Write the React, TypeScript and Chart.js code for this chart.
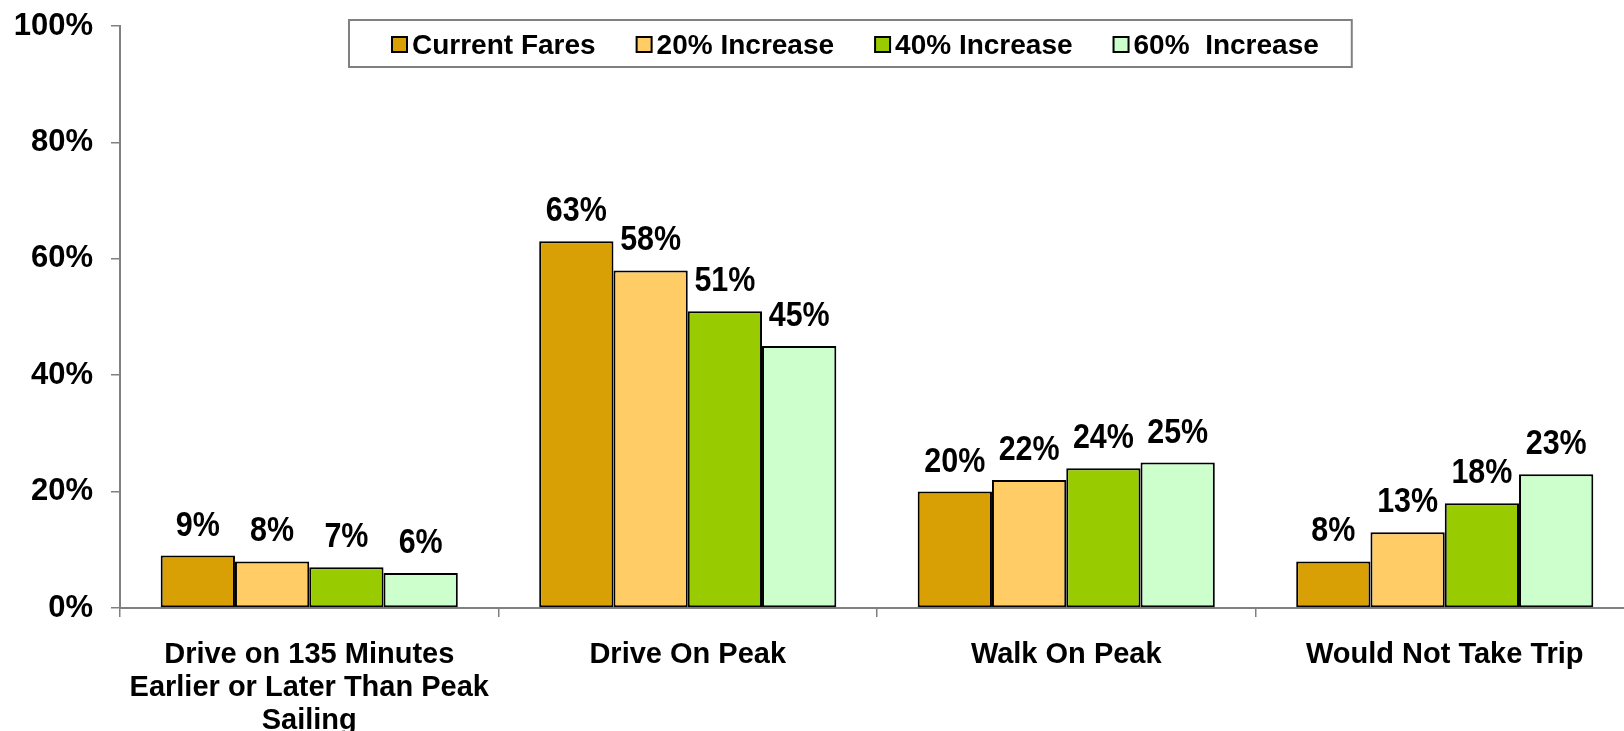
import React, { useEffect, useRef } from "react";
import { Chart, registerables } from "chart.js";

Chart.register(...registerables);

const categories: string[][] = [
  ["Drive on 135 Minutes", "Earlier or Later Than Peak", "Sailing"],
  ["Drive On Peak"],
  ["Walk On Peak"],
  ["Would Not Take Trip"],
];
const seriesNames = ["Current Fares", "20% Increase", "40% Increase", "60%  Increase"];
const currentFares = [9, 63, 20, 8];
const increase20 = [8, 58, 22, 13];
const increase40 = [7, 51, 24, 18];
const increase60 = [6, 45, 25, 23];
const yTicks = [0, 20, 40, 60, 80, 100];

const colors = ["#D9A006", "#FFCC66", "#99CC00", "#CCFFCC"];
const FONT = '"Liberation Sans", Arial, Helvetica, sans-serif';

const dataLabelPlugin = {
  id: "dataLabels",
  afterDatasetsDraw(chart: any) {
    const ctx = chart.ctx;
    ctx.save();
    ctx.fillStyle = "#000";
    ctx.font = `bold 35px ${FONT}`;
    ctx.textAlign = "center";
    ctx.textBaseline = "alphabetic";
    chart.data.datasets.forEach((ds: any, di: number) => {
      const meta = chart.getDatasetMeta(di);
      meta.data.forEach((el: any, i: number) => {
        ctx.save();
        ctx.translate(el.x, el.y - 20);
        ctx.scale(0.87, 1);
        ctx.fillText(`${ds.data[i]}%`, 0, 0);
        ctx.restore();
      });
    });
    ctx.restore();
  },
};

const legendPlugin = {
  id: "boxLegend",
  afterDraw(chart: any) {
    const ctx = chart.ctx;
    const left = 349;
    const top = 20;
    const height = 47;
    ctx.save();
    ctx.font = `bold 28px ${FONT}`;
    let x = left + 43;
    const items: { x: number; label: string; color: string }[] = [];
    chart.data.datasets.forEach((ds: any) => {
      items.push({ x, label: ds.label, color: ds.backgroundColor });
      const w = ctx.measureText(ds.label).width;
      x += 20 + w + 41;
    });
    const right = x - 41 + 33;
    ctx.fillStyle = "#fff";
    ctx.fillRect(left, top, right - left, height);
    ctx.strokeStyle = "#808080";
    ctx.lineWidth = 2;
    ctx.strokeRect(left, top, right - left, height);
    items.forEach((it) => {
      ctx.fillStyle = it.color;
      ctx.fillRect(it.x, 37, 15, 15);
      ctx.strokeStyle = "#000";
      ctx.lineWidth = 2;
      ctx.strokeRect(it.x, 37, 15, 15);
      ctx.fillStyle = "#000";
      ctx.textAlign = "left";
      ctx.textBaseline = "alphabetic";
      ctx.fillText(it.label, it.x + 20, 53.5);
    });
    ctx.restore();
  },
};

export default function App() {
  const canvasRef = useRef<HTMLCanvasElement>(null);

  useEffect(() => {
    document.body.style.margin = "0";
    const canvas = canvasRef.current;
    if (!canvas) return;
    const data = [currentFares, increase20, increase40, increase60];
    const chart = new Chart(canvas, {
      type: "bar",
      data: {
        labels: categories,
        datasets: data.map((d, i) => ({
          label: seriesNames[i],
          data: d,
          backgroundColor: colors[i],
          borderColor: "#000",
          borderWidth: 2,
          borderSkipped: false,
          categoryPercentage: 0.785,
          barPercentage: 1,
        })),
      },
      options: {
        responsive: false,
        animation: false,
        devicePixelRatio: 1,
        layout: { padding: { top: 26, right: 0, left: 0, bottom: 0 } },
        plugins: {
          legend: { display: false },
          tooltip: { enabled: false },
          title: { display: false },
        },
        scales: {
          x: {
            offset: true,
            grid: {
              offset: true,
              drawOnChartArea: false,
              drawTicks: true,
              tickLength: 9,
              color: "#808080",
              lineWidth: 1.5,
            },
            border: { color: "#808080", width: 2 },
            ticks: {
              color: "#000",
              font: { family: FONT, size: 29, weight: "bold", lineHeight: 1.14 },
              padding: 21,
              maxRotation: 0,
              autoSkip: false,
            },
            afterFit(scale: any) {
              scale.height = 123;
              scale.paddingLeft = 0;
              scale.paddingRight = 0;
            },
          },
          y: {
            min: 0,
            max: 100,
            afterBuildTicks(scale: any) {
              scale.ticks = yTicks.map((v) => ({ value: v }));
            },
            grid: {
              drawOnChartArea: false,
              drawTicks: true,
              tickLength: 9,
              color: "#808080",
              lineWidth: 1.5,
            },
            border: { color: "#808080", width: 2 },
            ticks: {
              color: "#000",
              font: { family: FONT, size: 31, weight: "bold" },
              padding: 18,
              callback: (v: any) => `${v}%`,
            },
            afterFit(scale: any) {
              scale.width = 120;
              scale.paddingTop = 0;
              scale.paddingBottom = 0;
            },
          },
        },
      },
      plugins: [dataLabelPlugin, legendPlugin],
    });
    return () => chart.destroy();
  }, []);

  return (
    <div style={{ width: 1624, height: 731, overflow: "hidden", background: "#fff" }}>
      <canvas ref={canvasRef} width={1634} height={731} style={{ display: "block" }} />
    </div>
  );
}
